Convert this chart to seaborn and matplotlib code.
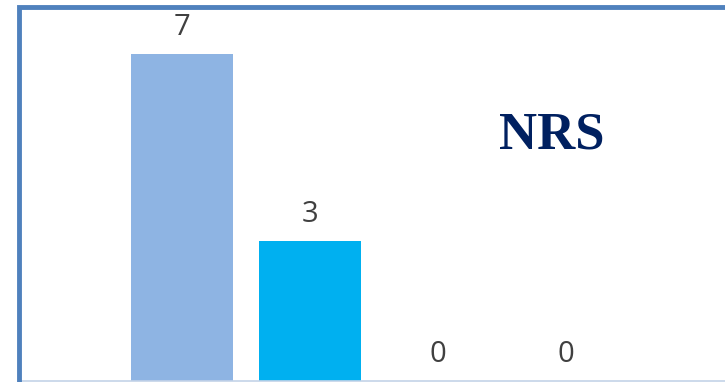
import seaborn as sns
import matplotlib.pyplot as plt
from matplotlib.patches import Rectangle

# NRS answer counts
categories = ["Leve", "Moderado", "Intenso", "Insuportável"]
counts = [7, 3, 0, 0]
bar_colors = ["#8EB4E3", "#00B0F0", "#4F81BD", "#1F497D"]

sns.set_style("white")
plt.rcParams['font.family'] = ['Open Sans', 'DejaVu Sans']

fig = plt.figure(figsize=(7.25, 3.82), dpi=100)
ax = fig.add_axes([21 / 725, 1 / 382, 1 - 21 / 725, 372 / 382])

sns.barplot(x=categories, y=counts, hue=categories, palette=bar_colors,
            width=0.79, saturation=1, legend=False, linewidth=0, ax=ax)

for c in ax.containers:
    ax.bar_label(c, padding=8.5, fontsize=21, color="#404040")

ax.set_xlim(-1.258, 4.242)
ax.set_ylim(0, 7.964)
ax.set_xticks([])
ax.set_yticks([])
ax.set_xlabel("")
ax.set_ylabel("")
for side in ["left", "top", "right"]:
    ax.spines[side].set_visible(False)
ax.spines["bottom"].set_color("#C3D3E8")
ax.spines["bottom"].set_linewidth(1.2)

fig.text(552 / 725, 1 - 135 / 382, "NRS", fontsize=38, fontweight="bold",
         family="Liberation Serif", color="#002060", ha="center", va="center")

# blue frame, only top and left edges visible
fig.patches.append(Rectangle((18.5 / 725, -0.2), 1.2, 1.2 - 7 / 382,
                             transform=fig.transFigure, fill=False,
                             edgecolor="#4F81BD", linewidth=3.5))

fig.savefig("out.png", dpi=100)
